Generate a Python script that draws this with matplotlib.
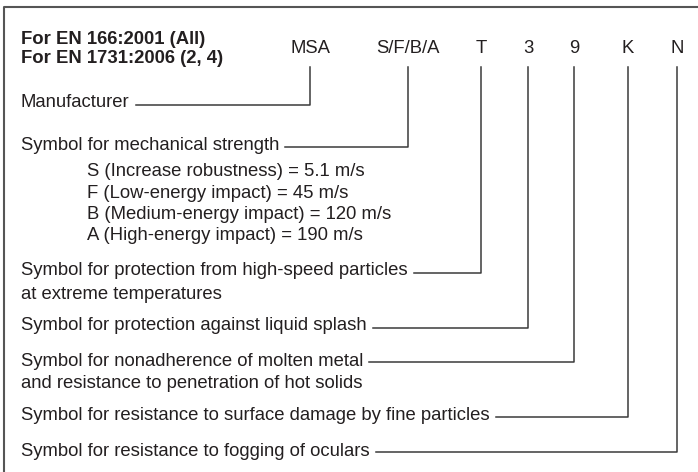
import matplotlib
matplotlib.use('Agg')
import matplotlib.pyplot as plt

# header (standards) and the code letters of the marking
header = ["For EN 166:2001 (All)", "For EN 1731:2006 (2, 4)"]
codes = ["MSA", "S/F/B/A", "T", "3", "9", "K", "N"]

# descriptions, one per code, with their continuation lines
labels = [
    "Manufacturer",
    "Symbol for mechanical strength",
    "Symbol for protection from high-speed particles",
    "Symbol for protection against liquid splash",
    "Symbol for nonadherence of molten metal",
    "Symbol for resistance to surface damage by fine particles",
    "Symbol for resistance to fogging of oculars",
]
sublines = [
    [],
    ["S (Increase robustness) = 5.1 m/s",
     "F (Low-energy impact) = 45 m/s",
     "B (Medium-energy impact) = 120 m/s",
     "A (High-energy impact) = 190 m/s"],
    ["at extreme temperatures"],
    [],
    ["and resistance to penetration of hot solids"],
    [],
    [],
]

# layout in pixel coordinates (y from the top)
code_x = [310, 408, 481, 528, 574, 628, 677]
code_y = 48.5
row_y = [102.5, 146, 270.5, 326, 361, 416, 451]
leader_y = [105, 146.5, 273, 328, 361.5, 417, 451.5]
sub_y = [[], [171.5, 193, 214.5, 236], [294.5], [], [384], [], []]
header_y = [39.5, 58.5]
text_x = 21
sub_indent = 87
line_top = 67
txt_col = '#231f20'
line_col = '#3a3a3a'
fs = 13.3

fig = plt.figure(figsize=(6.98, 4.72), dpi=100)
ax = fig.add_axes([0, 0, 1, 1])
ax.set_xlim(0, 698)
ax.set_ylim(472, 0)
ax.axis('off')

# frame (left and top edges only, the rest is cropped)
ax.plot([4, 4, 698], [472, 7, 7], color='#555555', lw=1.5, solid_capstyle='butt')

for h, y in zip(header, header_y):
    ax.text(text_x, y, h, fontsize=fs, fontweight='bold', color=txt_col,
            va='center', ha='left', family='Liberation Sans')

for c, x in zip(codes, code_x):
    ax.text(x, code_y, c, fontsize=fs, color=txt_col, va='center', ha='center',
            family='Liberation Sans')

label_texts = []
for i, lab in enumerate(labels):
    t = ax.text(text_x, row_y[i], lab, fontsize=fs, color=txt_col, va='center',
                ha='left', family='Liberation Sans')
    label_texts.append(t)
    for s, y in zip(sublines[i], sub_y[i]):
        ax.text(sub_indent if i == 1 else text_x, y, s, fontsize=fs, color=txt_col,
                va='center', ha='left', family='Liberation Sans')

# leader lines: from the end of each description to its code
fig.canvas.draw()
inv = ax.transData.inverted()
for t, x, ly in zip(label_texts, code_x, leader_y):
    bb = t.get_window_extent()
    x_end = inv.transform((bb.x1, 0))[0] + 6
    ax.plot([x_end, x, x], [ly, ly, line_top], color=line_col, lw=1.1)

fig.savefig('out.png', dpi=100)
